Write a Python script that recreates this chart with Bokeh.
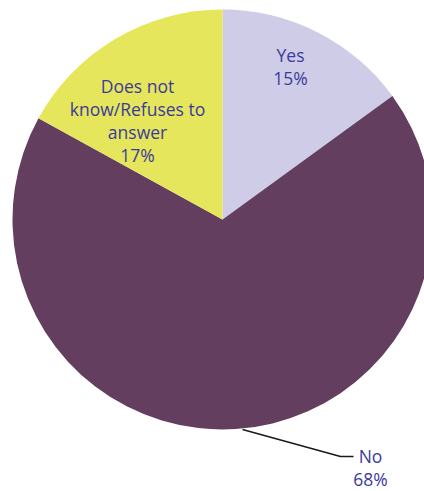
import math
from bokeh.plotting import figure
from bokeh.models import Range1d, ColumnDataSource
from bokeh.core.properties import value
from bokeh.embed import file_html
from bokeh.resources import INLINE

categories = ["Yes", "No", "Does not know/Refuses to answer"]
shares = [15, 68, 17]
label_lines = [["Yes", "15%"], ["No", "68%"], ["Does not", "know/Refuses to", "answer", "17%"]]
colors = ["#cfcce7", "#633e5f", "#e5e65b"]

W, H = 424, 491
CX, CY, R = 222, H - 219, 210
FONT = "Open Sans"
TXT = "#3b3b9c"
LINE_GAP = 23.0

p = figure(width=W, height=H, output_backend="svg", toolbar_location=None,
           x_range=Range1d(0, W), y_range=Range1d(0, H), min_border=0)
p.axis.visible = False
p.grid.visible = False
p.outline_line_color = None
p.background_fill_color = "white"

total = sum(shares)
starts, ends = [], []
cum = 0
for s in shares:
    starts.append(math.pi / 2 - 2 * math.pi * cum / total)
    cum += s
    ends.append(math.pi / 2 - 2 * math.pi * cum / total)

src = ColumnDataSource(dict(start=starts, end=ends, color=colors, cat=categories))
p.wedge(x=CX, y=CY, radius=R, start_angle="start", end_angle="end",
        direction="clock", fill_color="color", line_color=None, source=src)

# leader line for "No"
p.line(x=[242, 340, 353], y=[H - 429, H - 456, H - 456], line_color="#1a1a1a", line_width=1.6)

# first-line positions of each label (pixel coords from top)
first = [(290, 54), (370, 455), (137, 85)]
tx, ty, tt = [], [], []
for (x0, y0), lines in zip(first, label_lines):
    for i, t in enumerate(lines):
        tx.append(x0)
        ty.append(H - (y0 + i * LINE_GAP))
        tt.append(t)
p.text(x=tx, y=ty, text=tt, text_align="center", text_baseline="middle",
       text_font=value(FONT), text_font_size="17.5px", text_color=TXT)

open("out.html", "w").write(file_html(p, INLINE))
